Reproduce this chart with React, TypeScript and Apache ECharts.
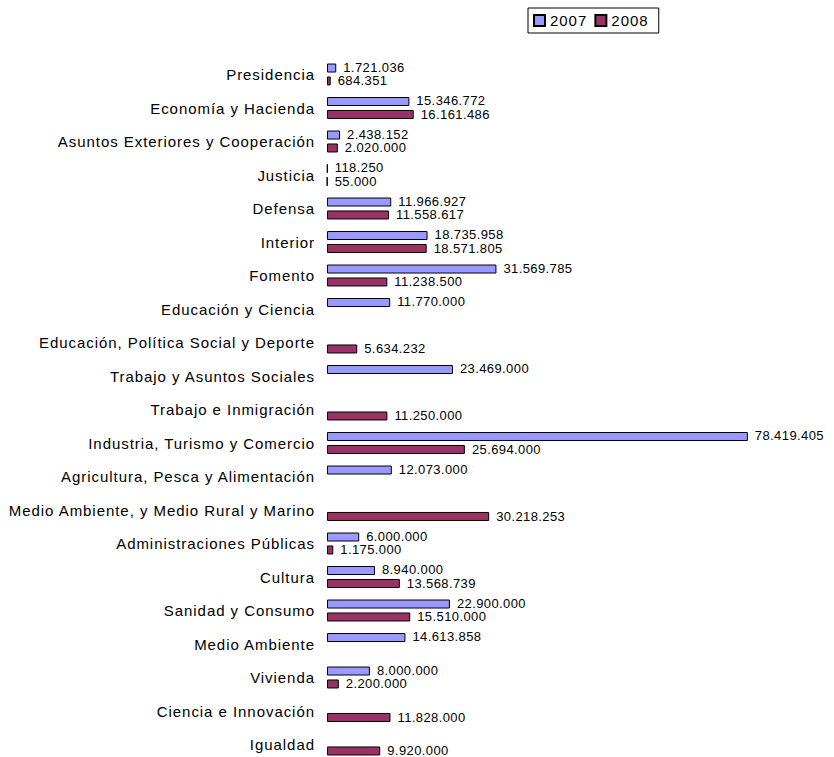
import React, { useEffect, useRef } from "react";
import * as echarts from "echarts";

const categories: string[] = [
  "Presidencia",
  "Economía y Hacienda",
  "Asuntos Exteriores y Cooperación",
  "Justicia",
  "Defensa",
  "Interior",
  "Fomento",
  "Educación y Ciencia",
  "Educación, Política Social y Deporte",
  "Trabajo y Asuntos Sociales",
  "Trabajo e Inmigración",
  "Industria, Turismo y Comercio",
  "Agricultura, Pesca y Alimentación",
  "Medio Ambiente, y Medio Rural y Marino",
  "Administraciones Públicas",
  "Cultura",
  "Sanidad y Consumo",
  "Medio Ambiente",
  "Vivienda",
  "Ciencia e Innovación",
  "Igualdad",
];

const values2007: (number | null)[] = [
  1721036, 15346772, 2438152, 118250, 11966927, 18735958, 31569785, 11770000,
  null, 23469000, null, 78419405, 12073000, null, 6000000, 8940000, 22900000,
  14613858, 8000000, null, null,
];

const values2008: (number | null)[] = [
  684351, 16161486, 2020000, 55000, 11558617, 18571805, 11238500, null,
  5634232, null, 11250000, 25694000, null, 30218253, 1175000, 13568739,
  15510000, null, 2200000, 11828000, 9920000,
];

const seriesNames = ["2007", "2008"];

const fmt = (n: number) =>
  String(Math.round(n)).replace(/\B(?=(\d{3})+(?!\d))/g, ".");

export default function App() {
  const ref = useRef<HTMLDivElement>(null);

  useEffect(() => {
    if (!ref.current) return;
    const chart = echarts.init(ref.current, null, { renderer: "svg" });
    const labelStyle = (dy: number) => ({
      show: true,
      position: "right" as const,
      distance: 7,
      offset: [0, dy],
      color: "#000",
      fontFamily: "Liberation Sans",
      fontSize: 13,
      lineHeight: 12,
      formatter: (p: any) => (p.value == null ? "" : fmt(p.value)),
    });
    chart.setOption({
      animation: false,
      backgroundColor: "#fff",
      legend: {
        data: seriesNames,
        left: 528,
        top: 8,
        orient: "horizontal",
        padding: [5, 14, 5, 5],
        itemGap: 11,
        itemWidth: 11,
        itemHeight: 11,
        borderColor: "#000",
        borderWidth: 1,
        icon: "rect",
        textStyle: {
          color: "#000",
          fontSize: 15,
          fontFamily: "Liberation Sans",
        },
      },
      grid: {
        left: 327,
        top: 57.75,
        width: 483,
        height: 703.5,
        containLabel: false,
      },
      xAxis: {
        type: "value",
        min: 0,
        max: 90000000,
        show: false,
      },
      yAxis: {
        type: "category",
        inverse: true,
        data: categories,
        axisLine: { show: false },
        axisTick: { show: false },
        splitLine: { show: false },
        axisLabel: {
          color: "#000",
          fontSize: 15,
          fontFamily: "Liberation Sans",
          margin: 12,
        },
      },
      series: [
        {
          name: seriesNames[0],
          type: "bar",
          data: values2007,
          barWidth: 9,
          barGap: "44%",
          itemStyle: { color: "#9999FF", borderColor: "#000", borderWidth: 1 },
          label: labelStyle(-1),
        },
        {
          name: seriesNames[1],
          type: "bar",
          data: values2008,
          barWidth: 9,
          barGap: "44%",
          itemStyle: { color: "#993366", borderColor: "#000", borderWidth: 1 },
          label: labelStyle(0),
        },
      ],
    });
    return () => chart.dispose();
  }, []);

  return (
    <div
      style={{
        position: "fixed",
        left: 0,
        top: 0,
        width: 834,
        height: 757,
        overflow: "hidden",
        background: "#fff",
      }}
    >
      <style>{`.chartwrap text[style*="15px"]{letter-spacing:0.95px} .chartwrap text[style*="13px"]{letter-spacing:0.4px}`}</style>
      <div className="chartwrap" ref={ref} style={{ width: 834, height: 780 }} />
    </div>
  );
}
